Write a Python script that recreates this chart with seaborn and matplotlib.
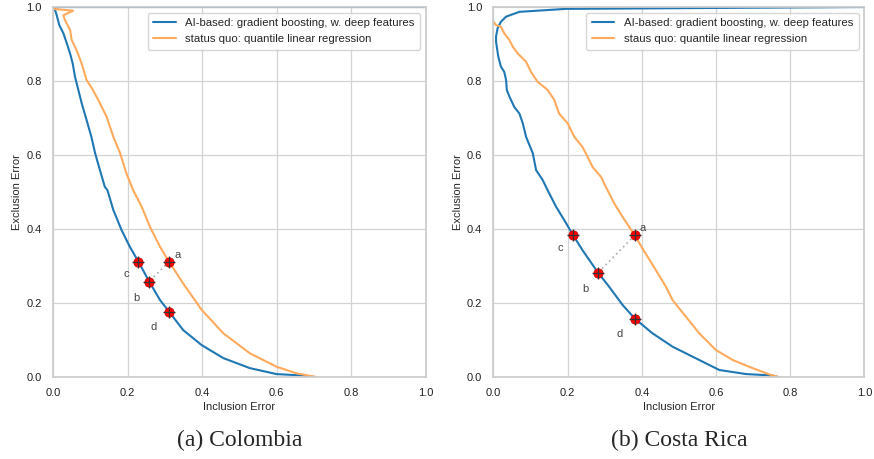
import matplotlib
matplotlib.use("Agg")
import matplotlib.pyplot as plt
import seaborn as sns
import pandas as pd

# ---- data: Colombia ----
col_ai_incl = [1.0, 0.02, 0.0, 0.005, 0.010, 0.017, 0.028, 0.037, 0.046, 0.053, 0.059, 0.068, 0.077, 0.090,
               0.103, 0.113, 0.126, 0.139, 0.146, 0.162, 0.184, 0.206, 0.229, 0.258, 0.287, 0.311,
               0.349, 0.399, 0.457, 0.528, 0.599, 0.671, 0.702]
col_ai_excl = [1.0, 1.0, 0.998, 0.994, 0.978, 0.951, 0.929, 0.902, 0.874, 0.847, 0.812, 0.776, 0.740, 0.695,
               0.649, 0.605, 0.559, 0.514, 0.505, 0.451, 0.397, 0.352, 0.312, 0.258, 0.208, 0.177,
               0.127, 0.086, 0.051, 0.024, 0.008, 0.004, 0.0]
col_sq_incl = [0.0, 0.054, 0.028, 0.032, 0.046, 0.050, 0.063, 0.077, 0.090, 0.107, 0.126, 0.144, 0.162,
               0.180, 0.197, 0.215, 0.238, 0.260, 0.287, 0.311, 0.349, 0.399, 0.457, 0.528, 0.599,
               0.653, 0.706]
col_sq_excl = [0.995, 0.99, 0.978, 0.965, 0.938, 0.911, 0.884, 0.847, 0.803, 0.776, 0.740, 0.703, 0.649,
               0.605, 0.550, 0.505, 0.460, 0.406, 0.352, 0.312, 0.253, 0.181, 0.118, 0.064, 0.028,
               0.010, 0.0]
col_pts_x = [0.311, 0.258, 0.229, 0.311]
col_pts_y = [0.312, 0.258, 0.312, 0.177]

# ---- data: Costa Rica ----
cr_ai_incl = [1.0, 0.196, 0.070, 0.034, 0.020, 0.011, 0.007, 0.007, 0.013, 0.020, 0.029, 0.034, 0.036,
              0.043, 0.056, 0.070, 0.079, 0.088, 0.106, 0.115, 0.133, 0.146, 0.169, 0.191, 0.215,
              0.240, 0.282, 0.312, 0.348, 0.381, 0.429, 0.483, 0.555, 0.609, 0.681, 0.753, 0.766]
cr_ai_excl = [1.0, 0.995, 0.987, 0.974, 0.960, 0.942, 0.920, 0.906, 0.866, 0.839, 0.825, 0.803, 0.776,
              0.758, 0.730, 0.712, 0.686, 0.649, 0.605, 0.559, 0.532, 0.505, 0.460, 0.424, 0.383,
              0.343, 0.282, 0.244, 0.195, 0.158, 0.118, 0.082, 0.046, 0.019, 0.008, 0.004, 0.0]
cr_sq_incl = [0.0, 0.007, 0.020, 0.029, 0.043, 0.052, 0.065, 0.088, 0.101, 0.119, 0.146, 0.164, 0.177,
              0.200, 0.218, 0.240, 0.254, 0.267, 0.290, 0.303, 0.326, 0.348, 0.381, 0.407, 0.438,
              0.465, 0.483, 0.519, 0.555, 0.600, 0.645, 0.699, 0.744, 0.770]
cr_sq_excl = [0.960, 0.951, 0.947, 0.929, 0.911, 0.893, 0.875, 0.852, 0.825, 0.798, 0.776, 0.749, 0.712,
              0.686, 0.649, 0.622, 0.595, 0.568, 0.541, 0.514, 0.469, 0.433, 0.383, 0.339, 0.289,
              0.244, 0.208, 0.163, 0.118, 0.073, 0.046, 0.024, 0.007, 0.0]
cr_pts_x = [0.381, 0.282, 0.215, 0.381]
cr_pts_y = [0.383, 0.282, 0.383, 0.158]

pt_labels = ["a", "b", "c", "d"]
ticks = [0.0, 0.2, 0.4, 0.6, 0.8, 1.0]
ai_label = "AI-based: gradient boosting, w. deep features"
sq_labels = ["status quo: quantile linear regression", "staus quo: quantile linear regression"]
captions = ["(a) Colombia", "(b) Costa Rica"]

sns.set_theme(style="whitegrid")
plt.rcParams["font.family"] = ["Liberation Sans", "DejaVu Sans"]

fig = plt.figure(figsize=(8.74, 4.59), dpi=100)
ax1 = fig.add_axes([0.0606, 0.1786, 0.4268, 0.8061])
ax2 = fig.add_axes([0.5646, 0.1786, 0.4243, 0.8061])

blue = "#1f77b4"
orange = "#ffaa5c"
label_offsets = {"a": (6, 5), "b": (-9, -12), "c": (-9, -9), "d": (-11, -11)}

panels = [
    (ax1, col_ai_incl, col_ai_excl, col_sq_incl, col_sq_excl, col_pts_x, col_pts_y, sq_labels[0], captions[0]),
    (ax2, cr_ai_incl, cr_ai_excl, cr_sq_incl, cr_sq_excl, cr_pts_x, cr_pts_y, sq_labels[1], captions[1]),
]

for ax, ai_x, ai_y, sq_x, sq_y, px, py, sq_lab, cap in panels:
    df_ai = pd.DataFrame({"incl": ai_x, "excl": ai_y})
    df_sq = pd.DataFrame({"incl": sq_x, "excl": sq_y})
    sns.lineplot(data=df_ai, x="incl", y="excl", sort=False, estimator=None, ax=ax,
                 color=blue, lw=1.5, label=ai_label)
    sns.lineplot(data=df_sq, x="incl", y="excl", sort=False, estimator=None, ax=ax,
                 color=orange, lw=1.5, label=sq_lab)
    # dotted connector a-b
    ax.plot([px[0], px[1]], [py[0], py[1]], ls=(0, (1, 2)), color="#aaaaaa", lw=1.2, zorder=3)
    sns.scatterplot(x=px, y=py, ax=ax, color="red", s=45, edgecolor="#cc0000", linewidth=0.6,
                    zorder=5, legend=False)
    ax.scatter(px, py, marker="+", color="#333333", s=70, linewidths=0.9, zorder=6)
    for x, y, t in zip(px, py, pt_labels):
        ax.annotate(t, (x, y), xytext=label_offsets[t], textcoords="offset points",
                    fontsize=8, color="#444444", ha="center", va="center")
    ax.set_xlim(0, 1)
    ax.set_ylim(0, 1)
    ax.set_xticks(ticks)
    ax.set_yticks(ticks)
    ax.tick_params(labelsize=8, colors="#222222", pad=2)
    ax.set_xlabel("Inclusion Error", fontsize=8, labelpad=3)
    ax.set_ylabel("Exclusion Error", fontsize=8, labelpad=3)
    ax.legend(loc="upper right", fontsize=8.2, frameon=True, borderpad=0.5, handlelength=2.0,
              borderaxespad=0.5)
    for s in ax.spines.values():
        s.set_color("#cccccc")
    ax.grid(color="#d3d3d3", lw=0.9)
    bb = ax.get_position()
    fig.text((bb.x0 + bb.x1) / 2, 0.041, cap, ha="center", va="center", fontsize=17,
             family=["Liberation Serif", "DejaVu Serif"])

fig.savefig("out.png", dpi=100)
